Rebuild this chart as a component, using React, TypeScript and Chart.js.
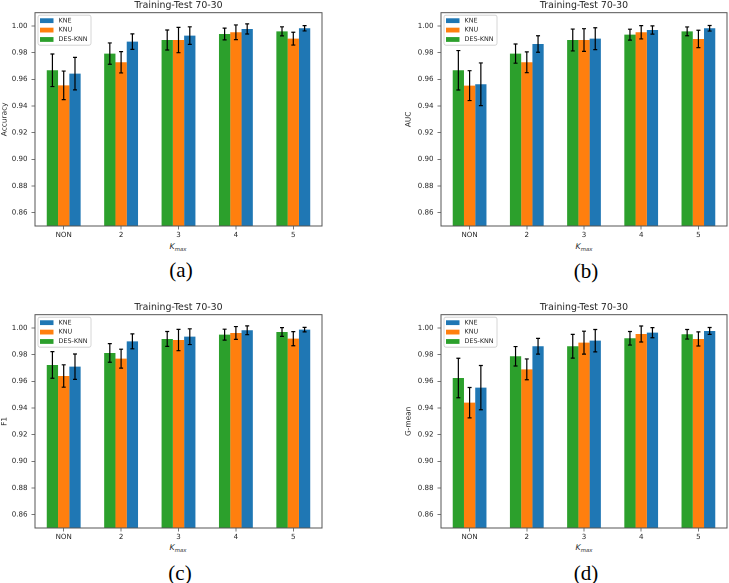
import React, { useEffect, useRef } from 'react';
import { Chart, registerables } from 'chart.js';

Chart.register(...registerables);

const categories = ['NON', '2', '3', '4', '5'];
const yTicks = [0.86, 0.88, 0.9, 0.92, 0.94, 0.96, 0.98, 1.0];
const seriesLabels = ['DES-KNN', 'KNU', 'KNE'];
const seriesColors = ['#2ca02c', '#ff7f0e', '#1f77b4'];
const chartTitle = 'Training-Test 70-30';

// (a) Accuracy
const accDesKnn = [0.9668, 0.9793, 0.9895, 0.994, 0.996];
const accDesKnnErr = [0.0122, 0.008, 0.0075, 0.0044, 0.0034];
const accKnu = [0.9555, 0.9728, 0.9895, 0.9953, 0.9905];
const accKnuErr = [0.0107, 0.008, 0.0095, 0.0055, 0.0048];
const accKne = [0.9643, 0.9883, 0.9928, 0.9978, 0.9983];
const accKneErr = [0.0122, 0.0058, 0.0066, 0.0038, 0.002];

// (b) AUC
const aucDesKnn = [0.9668, 0.9793, 0.9895, 0.9935, 0.996];
const aucDesKnnErr = [0.0148, 0.0072, 0.0082, 0.0041, 0.0033];
const aucKnu = [0.9553, 0.9728, 0.9895, 0.9953, 0.9903];
const aucKnuErr = [0.0112, 0.0078, 0.0085, 0.005, 0.0065];
const aucKne = [0.9563, 0.9865, 0.9905, 0.997, 0.9983];
const aucKneErr = [0.016, 0.0062, 0.0082, 0.0031, 0.0021];

// (c) F1
const f1DesKnn = [0.9723, 0.9813, 0.9918, 0.995, 0.997];
const f1DesKnnErr = [0.01, 0.007, 0.0056, 0.0041, 0.0033];
const f1Knu = [0.964, 0.977, 0.991, 0.9963, 0.992];
const f1KnuErr = [0.0084, 0.0071, 0.008, 0.0048, 0.0053];
const f1Kne = [0.971, 0.99, 0.9935, 0.9983, 0.9988];
const f1KneErr = [0.0095, 0.0056, 0.0059, 0.0033, 0.0017];

// (d) G-mean
const gmDesKnn = [0.9625, 0.9788, 0.9863, 0.9923, 0.9953];
const gmDesKnnErr = [0.0148, 0.0073, 0.0089, 0.0051, 0.0036];
const gmKnu = [0.944, 0.969, 0.989, 0.9955, 0.9918];
const gmKnuErr = [0.0114, 0.0078, 0.0086, 0.006, 0.0053];
const gmKne = [0.9553, 0.9863, 0.9905, 0.9965, 0.9978];
const gmKneErr = [0.0166, 0.0059, 0.0084, 0.0038, 0.0026];

const SANS = '"DejaVu Sans", Verdana, sans-serif';
const TEXT = '#262626';
const FRAME = '#555555';

const errorBarPlugin = {
  id: 'errorBars',
  afterDatasetsDraw(chart: any) {
    const ctx = chart.ctx;
    const yScale = chart.scales.y;
    ctx.save();
    ctx.strokeStyle = '#000000';
    ctx.lineWidth = 1.2;
    chart.data.datasets.forEach((ds: any, i: number) => {
      const meta = chart.getDatasetMeta(i);
      meta.data.forEach((el: any, j: number) => {
        const v = ds.data[j];
        const e = ds.errors[j];
        const yt = yScale.getPixelForValue(v + e);
        const yb = yScale.getPixelForValue(v - e);
        const x = el.x;
        const cap = 2;
        ctx.beginPath();
        ctx.moveTo(x, yt);
        ctx.lineTo(x, yb);
        ctx.moveTo(x - cap, yt);
        ctx.lineTo(x + cap, yt);
        ctx.moveTo(x - cap, yb);
        ctx.lineTo(x + cap, yb);
        ctx.stroke();
      });
    });
    ctx.restore();
  },
};

const framePlugin = {
  id: 'frameBox',
  afterDatasetsDraw(chart: any) {
    const { ctx, chartArea } = chart;
    ctx.save();
    ctx.strokeStyle = FRAME;
    ctx.lineWidth = 1;
    ctx.strokeRect(chartArea.left, chartArea.top, chartArea.right - chartArea.left, chartArea.bottom - chartArea.top);
    ctx.restore();
  },
};

const legendBoxPlugin = {
  id: 'legendBox',
  afterDraw(chart: any) {
    const { ctx, chartArea } = chart;
    const x0 = chartArea.left + 3;
    const y0 = chartArea.top + 2.5;
    const w = 53;
    const h = 30;
    ctx.save();
    ctx.fillStyle = 'rgba(255,255,255,0.85)';
    ctx.strokeStyle = '#cccccc';
    ctx.lineWidth = 0.8;
    ctx.beginPath();
    if ((ctx as any).roundRect) (ctx as any).roundRect(x0, y0, w, h, 2);
    else ctx.rect(x0, y0, w, h);
    ctx.fill();
    ctx.stroke();
    const items = chart.data.datasets.map((d: any) => ({ label: d.label, color: d.backgroundColor })).reverse();
    ctx.font = `6.4px ${SANS}`;
    ctx.textBaseline = 'middle';
    ctx.textAlign = 'left';
    items.forEach((it: any, k: number) => {
      const cy = y0 + 5.5 + k * 9.4;
      ctx.fillStyle = it.color;
      ctx.fillRect(x0 + 2, cy - 2.4, 13.5, 4.8);
      ctx.fillStyle = TEXT;
      ctx.fillText(it.label, x0 + 20.5, cy);
    });
    ctx.restore();
  },
};

type PanelProps = {
  left: number;
  top: number;
  width: number;
  height: number;
  yWidth: number;
  padRight: number;
  yTitle: string;
  values: number[][];
  errors: number[][];
};

function Panel(p: PanelProps) {
  const ref = useRef<HTMLCanvasElement>(null);
  useEffect(() => {
    const chart = new Chart(ref.current as HTMLCanvasElement, {
      type: 'bar',
      data: {
        labels: categories,
        datasets: seriesLabels.map((label, i) => ({
          label,
          data: p.values[i],
          errors: p.errors[i],
          backgroundColor: seriesColors[i],
          borderWidth: 0,
          barPercentage: 1,
          categoryPercentage: 0.59,
        })) as any,
      },
      options: {
        responsive: true,
        maintainAspectRatio: false,
        animation: false,
        devicePixelRatio: 2,
        layout: { padding: { left: 0, right: p.padRight, top: 0, bottom: 0 } },
        plugins: {
          legend: { display: false },
          tooltip: { enabled: false },
          title: {
            display: true,
            fullSize: false,
            text: chartTitle,
            color: TEXT,
            font: { family: SANS, size: 9.4, weight: 'normal' },
            padding: { top: 0, bottom: 1.4 },
          },
        },
        scales: {
          x: {
            type: 'category',
            grid: { display: true, drawOnChartArea: false, offset: false, tickLength: 3.5, tickColor: FRAME, lineWidth: 0.8 },
            border: { display: false },
            ticks: { color: TEXT, font: { family: SANS, size: 7.1 }, padding: 1.3, maxRotation: 0, autoSkip: false },
            afterFit: (s: any) => {
              s.height = 14;
            },
          },
          y: {
            type: 'linear',
            min: 0.85,
            max: 1.01,
            grid: { display: true, drawOnChartArea: false, tickLength: 3.5, tickColor: FRAME, lineWidth: 0.8 },
            border: { display: false },
            ticks: {
              color: TEXT,
              font: { family: SANS, size: 7.1 },
              padding: 4,
              callback: (v: any) => Number(v).toFixed(2),
            },
            afterBuildTicks: (s: any) => {
              s.ticks = yTicks.map((v) => ({ value: v }));
            },
            title: {
              display: true,
              text: p.yTitle,
              color: TEXT,
              font: { family: SANS, size: 7.4 },
              padding: 0,
            },
            afterFit: (s: any) => {
              s.width = p.yWidth;
            },
          },
        },
      } as any,
      plugins: [errorBarPlugin, framePlugin, legendBoxPlugin],
    });
    return () => chart.destroy();
  }, []);
  return (
    <div style={{ position: 'absolute', left: p.left, top: p.top, width: p.width, height: p.height }}>
      <canvas ref={ref} />
    </div>
  );
}

function Kmax({ cx, cy }: { cx: number; cy: number }) {
  return (
    <div
      style={{
        position: 'absolute',
        left: cx - 30,
        top: cy - 5,
        width: 60,
        height: 10,
        lineHeight: '10px',
        textAlign: 'center',
        fontFamily: SANS,
        fontStyle: 'italic',
        fontSize: 7.8,
        color: TEXT,
        whiteSpace: 'nowrap',
      }}
    >
      K<span style={{ fontSize: 5.4, position: 'relative', top: 1.5 }}>max</span>
    </div>
  );
}

function Caption({ cx, cy, text }: { cx: number; cy: number; text: string }) {
  return (
    <div
      style={{
        position: 'absolute',
        left: cx - 40,
        top: cy - 11,
        width: 80,
        height: 22,
        lineHeight: '22px',
        textAlign: 'center',
        fontFamily: '"Liberation Serif", "DejaVu Serif", serif',
        fontSize: 21,
        color: '#000',
      }}
    >
      {text}
    </div>
  );
}

export default function App() {
  return (
    <div style={{ position: 'fixed', left: 0, top: 0, width: 729, height: 583, background: '#fff', overflow: 'hidden' }}>
      <Panel
        left={0}
        top={0}
        width={330}
        height={240}
        yWidth={35}
        padRight={8}
        yTitle="Accuracy"
        values={[accDesKnn, accKnu, accKne]}
        errors={[accDesKnnErr, accKnuErr, accKneErr]}
      />
      <Panel
        left={404}
        top={0}
        width={325}
        height={240}
        yWidth={37}
        padRight={2}
        yTitle="AUC"
        values={[aucDesKnn, aucKnu, aucKne]}
        errors={[aucDesKnnErr, aucKnuErr, aucKneErr]}
      />
      <Panel
        left={0}
        top={302}
        width={330}
        height={240}
        yWidth={35}
        padRight={8}
        yTitle="F1"
        values={[f1DesKnn, f1Knu, f1Kne]}
        errors={[f1DesKnnErr, f1KnuErr, f1KneErr]}
      />
      <Panel
        left={404}
        top={302}
        width={325}
        height={240}
        yWidth={37}
        padRight={2}
        yTitle="G-mean"
        values={[gmDesKnn, gmKnu, gmKne]}
        errors={[gmDesKnnErr, gmKnuErr, gmKneErr]}
      />
      <Kmax cx={178} cy={247} />
      <Kmax cx={584} cy={247} />
      <Kmax cx={178} cy={548} />
      <Kmax cx={584} cy={548} />
      <Caption cx={181} cy={270} text="(a)" />
      <Caption cx={586} cy={271} text="(b)" />
      <Caption cx={180} cy={573} text="(c)" />
      <Caption cx={586} cy={573} text="(d)" />
    </div>
  );
}
